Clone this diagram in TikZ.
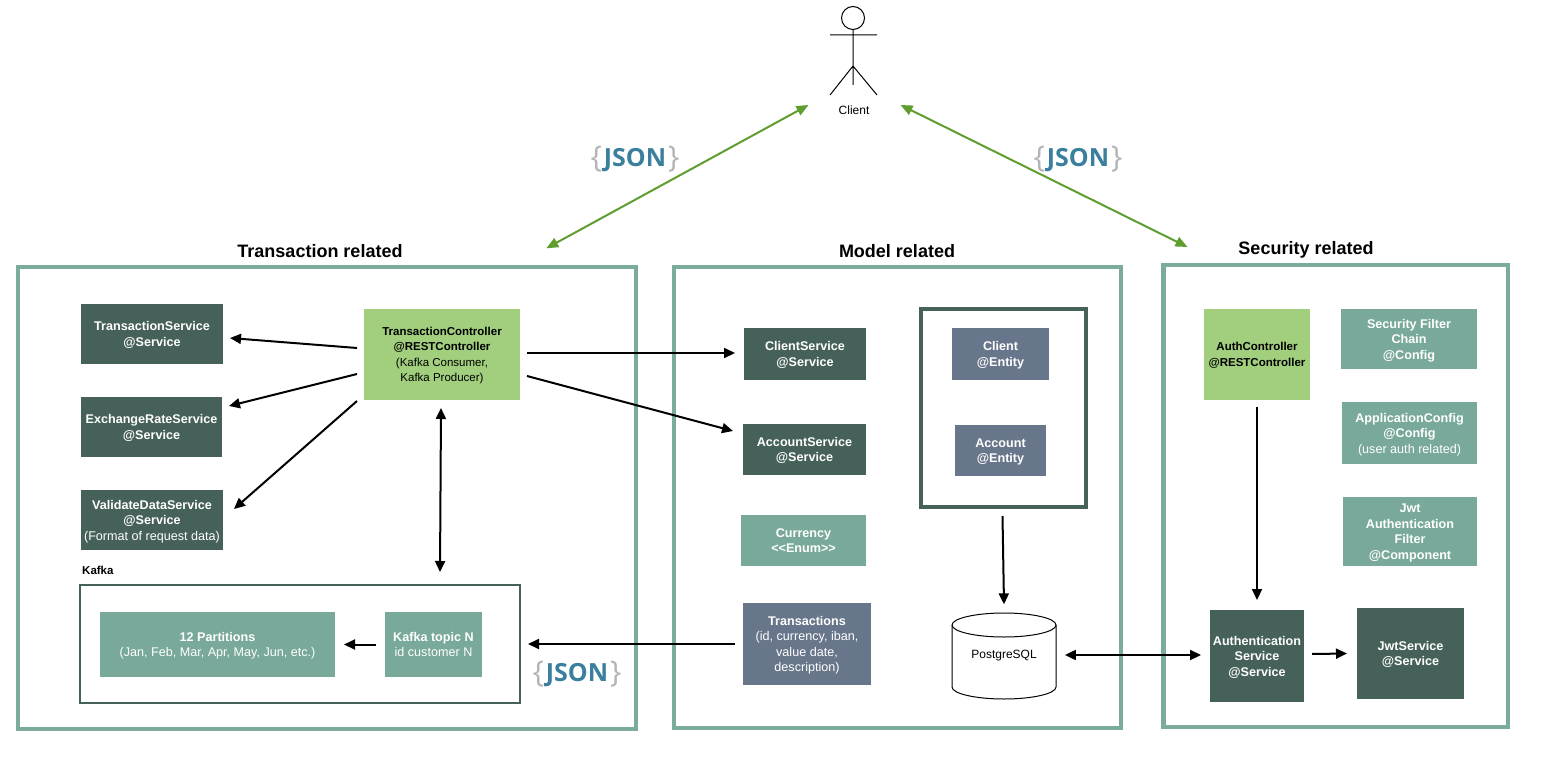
\documentclass[tikz,border=0pt]{standalone}
\usepackage{fontspec}
\setmainfont{Liberation Sans}
\newfontfamily\jsonfont{Open Sans}
\usetikzlibrary{arrows.meta,calc}
\definecolor{frameteal}{HTML}{7AAB9D}
\definecolor{darkgreen}{HTML}{456159}
\definecolor{tealbox}{HTML}{78A99A}
\definecolor{slatebox}{HTML}{67768A}
\definecolor{lightgreen}{HTML}{A2CF7E}
\definecolor{arrowgreen}{HTML}{5F9E2E}
\definecolor{jsonblue}{HTML}{3A7F9E}
\definecolor{bracegrey}{HTML}{B4B4B4}
\tikzset{
  x=1pt,y=-1pt,
  pane/.style={draw=frameteal,line width=4.3pt,fill=white,outer sep=0pt,inner sep=0pt,anchor=north west},
  boxbase/.style={draw=none,align=center,text=white,font=\fontsize{12.6}{15.5}\selectfont,inner sep=0pt,outer sep=0pt,anchor=north west,text depth=0pt},
  darkbox/.style={boxbase,fill=darkgreen},
  tealb/.style={boxbase,fill=tealbox},
  slateb/.style={boxbase,fill=slatebox},
  greenb/.style={boxbase,fill=lightgreen,text=black,font=\fontsize{11.5}{15.5}\selectfont},
  title/.style={font=\bfseries\fontsize{18}{22}\selectfont,text=black},
  arr/.style={-{Triangle[length=11pt,width=10pt]},line width=2pt,black},
  biarr/.style={{Triangle[length=11pt,width=10pt]}-{Triangle[length=11pt,width=10pt]},line width=2pt,black},
  garr/.style={{Triangle[length=12pt,width=10pt]}-{Triangle[length=12pt,width=10pt]},line width=2pt,arrowgreen},
  jsonlabel/.style={font=\jsonfont\bfseries\fontsize{25}{30}\selectfont,inner sep=0pt,anchor=base},
}
\newcommand{\jsonbrace}[1]{{\mdseries\fontsize{30}{30}\selectfont\color{bracegrey}\raisebox{-1pt}{#1}}}
\newcommand{\jsontext}{\jsonbrace{\{}\kern2pt{\color{jsonblue}JSON}\kern2pt\jsonbrace{\}}}
\begin{document}
\begin{tikzpicture}
\useasboundingbox (0,0) rectangle (1565,762);
% panes
\node[pane,minimum width=618.3pt,minimum height=461.7pt] (transpane) at (18,267.3) {};
\node[pane,minimum width=447pt,minimum height=461pt] (modelpane) at (673.7,267) {};
\node[pane,minimum width=344.8pt,minimum height=462pt] (secpane) at (1163.5,265) {};
\node[title] (ttitle) at (320,251) {Transaction related};
\node[title] (mtitle) at (897,251) {Model related};
\node[title] (stitle) at (1306,250) {Security related};
% actor
\draw[black,line width=1pt] (853,18) circle (11.5);
\draw[black,line width=1pt] (853,29.5) -- (853,85) (830,35) -- (877,35) (830,95) -- (853,66) -- (877,95);
\node[font=\fontsize{12}{14}\selectfont,inner sep=0pt] (client) at (854,110) {Client};
% transaction
\node[darkbox,minimum width=142pt,minimum height=60pt] (ts) at (81,304) {\textbf{TransactionService}\\\textbf{@Service}};
\node[darkbox,minimum width=141pt,minimum height=60pt] (er) at (81,397) {\textbf{ExchangeRateService}\\\textbf{@Service}};
\node[darkbox,minimum width=142pt,minimum height=60pt] (vd) at (81,490) {\textbf{ValidateDataService}\\\textbf{@Service}\\(Format of request data)};
\node[greenb,minimum width=156pt,minimum height=91pt] (tc) at (364,309) {\textbf{TransactionController}\\\textbf{@RESTController}\\(Kafka Consumer,\\Kafka Producer)};
\node[anchor=north west,draw=darkgreen,line width=2pt,minimum width=440pt,minimum height=118pt,inner sep=0pt,outer sep=0pt] (kafka) at (80,585) {};
\node[font=\bfseries\fontsize{11.5}{14}\selectfont,anchor=west,inner sep=0pt] (kafkalabel) at (82,570) {Kafka};
\node[tealb,minimum width=235pt,minimum height=65pt] (parts) at (100,612) {\textbf{12 Partitions}\\(Jan, Feb, Mar, Apr, May, Jun, etc.)};
\node[tealb,minimum width=97pt,minimum height=65pt] (topic) at (385,612) {\textbf{Kafka topic N}\\id customer N};
% model
\node[darkbox,minimum width=122pt,minimum height=52pt] (cs) at (744,328) {\textbf{ClientService}\\\textbf{@Service}};
\node[darkbox,minimum width=123pt,minimum height=51pt] (as) at (743,424) {\textbf{AccountService}\\\textbf{@Service}};
\node[tealb,minimum width=125pt,minimum height=51pt] (cur) at (741,515) {\textbf{Currency}\\\textbf{<{}<Enum>{}>}};
\node[slateb,minimum width=128pt,minimum height=82pt] (tx) at (743,603) {\textbf{Transactions}\\(id, currency, iban,\\value date,\\description)};
\node[anchor=north west,draw=darkgreen,line width=4pt,minimum width=165pt,minimum height=198pt,inner sep=0pt,outer sep=0pt] (entities) at (921,309) {};
\node[slateb,minimum width=97pt,minimum height=52pt] (ce) at (952,328) {\textbf{Client}\\\textbf{@Entity}};
\node[slateb,minimum width=91pt,minimum height=51pt] (ae) at (955,425) {\textbf{Account}\\\textbf{@Entity}};
% cylinder
\draw[black,line width=1pt,fill=white] (952,625) .. controls (952,618.4) and (975.3,613) .. (1004,613) .. controls (1032.7,613) and (1056,618.4) .. (1056,625) -- (1056,687) .. controls (1056,693.6) and (1032.7,699) .. (1004,699) .. controls (975.3,699) and (952,693.6) .. (952,687) -- cycle;
\draw[black,line width=1pt] (952,625) .. controls (952,631.6) and (975.3,637) .. (1004,637) .. controls (1032.7,637) and (1056,631.6) .. (1056,625);
\node[font=\fontsize{12}{14}\selectfont,inner sep=0pt] (pg) at (1004,656) {PostgreSQL};
% security
\node[greenb,minimum width=106pt,minimum height=91pt] (ac) at (1204,309) {\textbf{AuthController}\\\textbf{@RESTController}};
\node[tealb,minimum width=136pt,minimum height=60pt] (sf) at (1341,309) {\textbf{Security Filter}\\\textbf{Chain}\\\textbf{@Config}};
\node[tealb,minimum width=135pt,minimum height=62pt] (ap) at (1342,402) {\textbf{ApplicationConfig}\\\textbf{@Config}\\(user auth related)};
\node[tealb,minimum width=134pt,minimum height=69pt] (jf) at (1343,497) {\textbf{Jwt}\\\textbf{Authentication}\\\textbf{Filter}\\\textbf{@Component}};
\node[darkbox,minimum width=94pt,minimum height=92pt] (au) at (1210,610) {\textbf{Authentication}\\\textbf{Service}\\\textbf{@Service}};
\node[darkbox,minimum width=107pt,minimum height=91pt] (js) at (1357,608) {\textbf{JwtService}\\\textbf{@Service}};
% connectors
\draw[arr] ($(tc.west)+(-7,-6.5)$) -- ($(ts.east)+(7,4)$);
\draw[arr] ($(tc.west)+(-7,19.5)$) -- ($(er.east)+(7,-21)$);
\draw[arr] ($(tc.west)+(-7,46.5)$) -- ($(vd.east)+(11,-11)$);
\draw[biarr] ($(tc.south)+(-1,8)$) -- ($(kafka.north)+(140,-13)$);
\draw[arr] ($(tc.east)+(7,-1.5)$) -- ($(cs.west)+(-9,-1)$);
\draw[arr] ($(tc.east)+(7,21.5)$) -- ($(as.west)+(-10,-18.5)$);
\draw[arr] ($(tx.west)+(-8,0)$) -- ($(kafka.east)+(8,0)$);
\draw[arr] ($(topic.west)+(-9,0)$) -- ($(parts.east)+(9,0)$);
\draw[arr] ($(entities.south)+(-1,9)$) -- ($(pg.north)+(0,-46)$);
\draw[arr] ($(ac.south)+(0,7)$) -- ($(au.north)+(0,-10)$);
\draw[biarr] ($(pg.east)+(28,-1)$) -- ($(au.west)+(-9,-1)$);
\draw[arr] ($(au.east)+(8,-2)$) -- ($(js.west)+(-10,0)$);
\draw[garr] ($(client.west)+(-30,-5)$) -- ($(transpane.north east)+(-90,-19)$);
\draw[garr] ($(client.east)+(31,-5)$) -- ($(secpane.north west)+(24,-18)$);
% JSON labels
\node[jsonlabel] (j1) at (635,167) {\jsontext};
\node[jsonlabel] (j2) at (1078,167) {\jsontext};
\node[jsonlabel] (j3) at (577,681) {\jsontext};
\end{tikzpicture}
\end{document}
